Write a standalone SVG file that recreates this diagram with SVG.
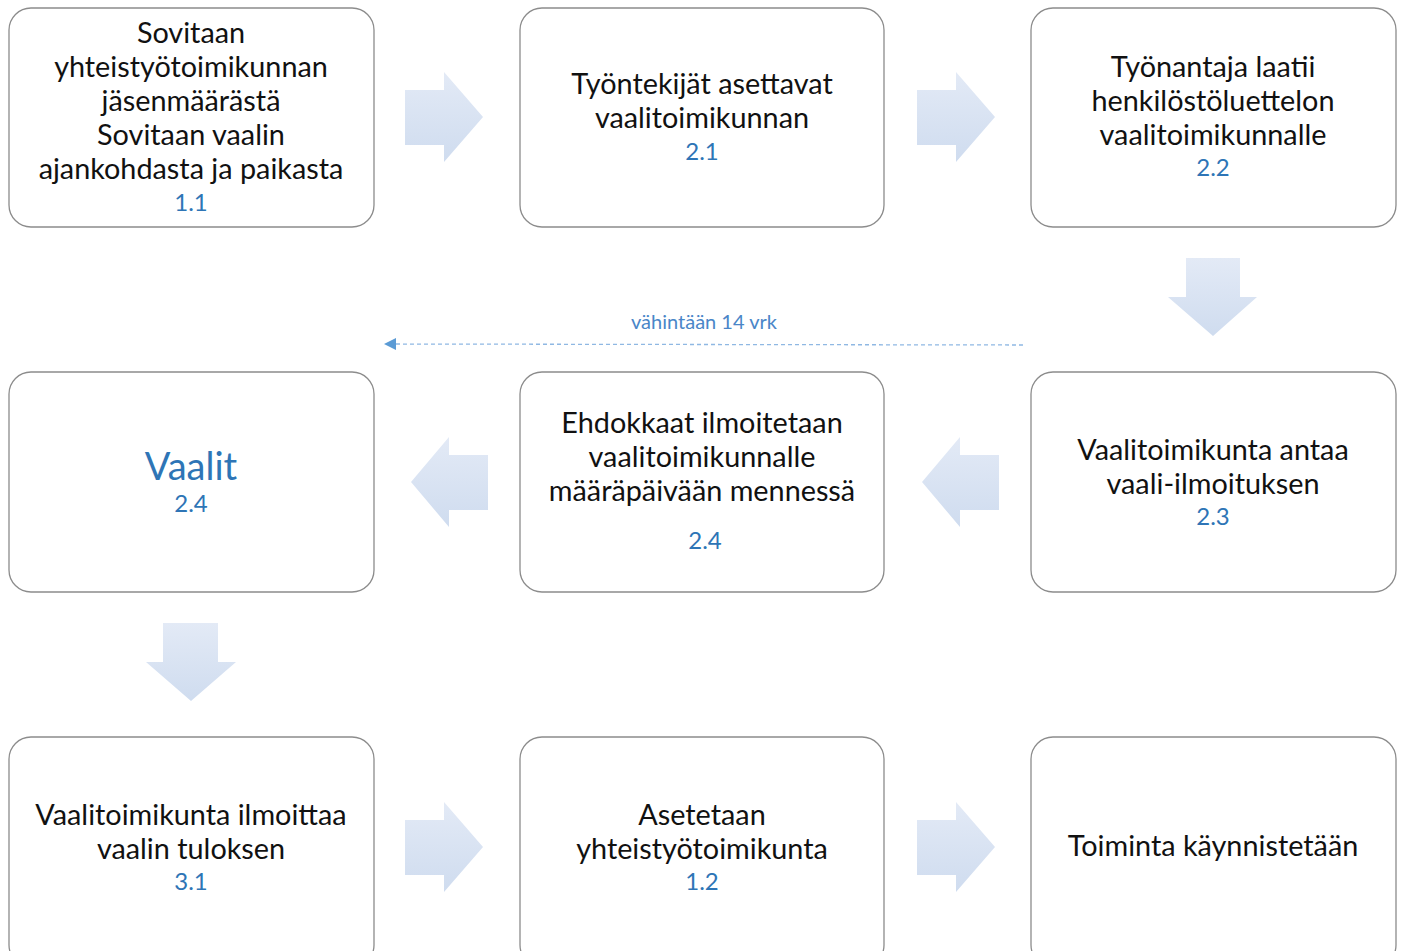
<svg xmlns="http://www.w3.org/2000/svg" width="1405" height="951" viewBox="0 0 1405 951">
<style>
.box{fill:#fff;stroke:#8c8c8c;stroke-width:1.3}
.t{font-family:Lato,"Open Sans",sans-serif;font-size:28.8px;fill:#111;text-anchor:middle}
.n{font-family:Lato,"Open Sans",sans-serif;font-size:24px;fill:#2e75b6;text-anchor:middle}
.arr{fill:url(#g)}
.lbl{font-family:Lato,"Open Sans",sans-serif;font-size:20px;fill:#4a86c8;text-anchor:middle}
</style>
<defs>
<linearGradient id="g" x1="0" y1="0" x2="0" y2="1">
<stop offset="0" stop-color="#e3eaf6"/>
<stop offset="1" stop-color="#cfdcef"/>
</linearGradient>
<marker id="ah" markerWidth="12" markerHeight="12" refX="10" refY="6" orient="auto" markerUnits="userSpaceOnUse">
<path d="M0,0 L12,6 L0,12 Z" fill="#5b9bd5"/>
</marker>
</defs>
<rect width="1405" height="951" fill="#fff"/>
<g id="connectors">
<path class="arr" d="M405,90 H444 V72 L483,117 L444,162 V145 H405 Z"/>
<path class="arr" d="M917,90 H956 V72 L995,117 L956,162 V145 H917 Z"/>
<path class="arr" d="M1186,258 H1240 V297 H1257 L1213,336 L1168,297 H1186 Z"/>
<path class="arr" d="M999,455 H960 V437 L922,482 L960,527 V510 H999 Z"/>
<path class="arr" d="M488,455 H449 V437 L411,482 L449,527 V510 H488 Z"/>
<path class="arr" d="M163,623 H218 V662 H236 L191,701 L146,662 H163 Z"/>
<path class="arr" d="M405,820 H444 V802 L483,847 L444,892 V875 H405 Z"/>
<path class="arr" d="M917,820 H956 V802 L995,847 L956,892 V875 H917 Z"/>
<line x1="1023" y1="345" x2="386" y2="344" stroke="#8fb8e3" stroke-width="1.3" stroke-dasharray="4,3" marker-end="url(#ah)"/>
<text class="lbl" x="704" y="329">vähintään 14 vrk</text>
</g>
<g id="n1">
<rect class="box" x="9" y="8" width="365" height="219" rx="22"/>
<text class="t" x="191" y="43">Sovitaan</text>
<text class="t" x="191" y="77">yhteistyötoimikunnan</text>
<text class="t" x="191" y="111">jäsenmäärästä</text>
<text class="t" x="191" y="145">Sovitaan vaalin</text>
<text class="t" x="191" y="179">ajankohdasta ja paikasta</text>
<text class="n" x="191" y="211">1.1</text>
</g>
<g id="n2">
<rect class="box" x="520" y="8" width="364" height="219" rx="22"/>
<text class="t" x="702" y="94">Työntekijät asettavat</text>
<text class="t" x="702" y="128">vaalitoimikunnan</text>
<text class="n" x="702" y="160">2.1</text>
</g>
<g id="n3">
<rect class="box" x="1031" y="8" width="365" height="219" rx="22"/>
<text class="t" x="1213" y="77">Työnantaja laatii</text>
<text class="t" x="1213" y="111">henkilöstöluettelon</text>
<text class="t" x="1213" y="145">vaalitoimikunnalle</text>
<text class="n" x="1213" y="176">2.2</text>
</g>
<g id="n4">
<rect class="box" x="1031" y="372" width="365" height="220" rx="22"/>
<text class="t" x="1213" y="460">Vaalitoimikunta antaa</text>
<text class="t" x="1213" y="494">vaali-ilmoituksen</text>
<text class="n" x="1213" y="525">2.3</text>
</g>
<g id="n5">
<rect class="box" x="520" y="372" width="364" height="220" rx="22"/>
<text class="t" x="702" y="433">Ehdokkaat ilmoitetaan</text>
<text class="t" x="702" y="467">vaalitoimikunnalle</text>
<text class="t" x="702" y="501">määräpäivään mennessä</text>
<text class="n" x="705" y="549">2.4</text>
</g>
<g id="n6">
<rect class="box" x="9" y="372" width="365" height="220" rx="22"/>
<text class="n" x="191" y="480" style="font-size:38px">Vaalit</text>
<text class="n" x="191" y="512">2.4</text>
</g>
<g id="n7">
<rect class="box" x="9" y="737" width="365" height="230" rx="22"/>
<text class="t" x="191" y="825">Vaalitoimikunta ilmoittaa</text>
<text class="t" x="191" y="859">vaalin tuloksen</text>
<text class="n" x="191" y="890">3.1</text>
</g>
<g id="n8">
<rect class="box" x="520" y="737" width="364" height="230" rx="22"/>
<text class="t" x="702" y="825">Asetetaan</text>
<text class="t" x="702" y="859">yhteistyötoimikunta</text>
<text class="n" x="702" y="890">1.2</text>
</g>
<g id="n9">
<rect class="box" x="1031" y="737" width="365" height="230" rx="22"/>
<text class="t" x="1213" y="856">Toiminta käynnistetään</text>
</g>
</svg>
